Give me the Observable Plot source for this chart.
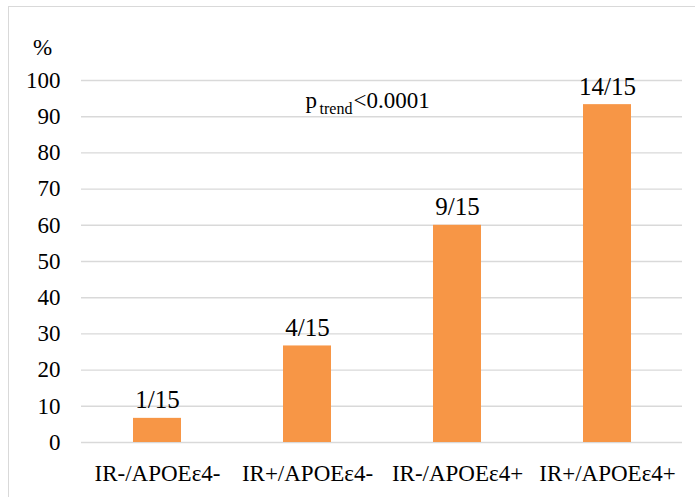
<!DOCTYPE html>
<html>
<head>
<meta charset="utf-8">
<script src="https://cdn.jsdelivr.net/npm/d3@7"></script>
<script src="https://cdn.jsdelivr.net/npm/@observablehq/plot@0.6"></script>
<style>
  html, body { margin: 0; padding: 0; background: #fff; }
  #wrap { position: relative; width: 695px; height: 497px; overflow: hidden; }
  #border { position: absolute; left: 8px; top: 6px; width: 800px; height: 600px;
            border-top: 1.5px solid #d9d9d9; border-left: 1.5px solid #d9d9d9; pointer-events: none; }
  #wrap svg { position: absolute; left: 0; top: 0; }
</style>
</head>
<body>
<div id="wrap"><div id="border"></div></div>
<script>
const categories = ["IR-/APOEε4-", "IR+/APOEε4-", "IR-/APOEε4+", "IR+/APOEε4+"];
const percents = [6.67, 26.67, 60, 93.33];
const labels = ["1/15", "4/15", "9/15", "14/15"];
const yTicks = [0, 10, 20, 30, 40, 50, 60, 70, 80, 90, 100];

const data = categories.map((c, i) => ({cat: c, value: percents[i], label: labels[i]}));
const serif = "'Times New Roman', Tinos, 'DejaVu Serif', serif";

const chart = Plot.plot({
  width: 695,
  height: 497,
  marginLeft: 81,
  marginRight: 13,
  marginTop: 80,
  marginBottom: 55,
  style: {color: "#000", background: "transparent", fontFamily: serif},
  x: {domain: categories, paddingInner: 0.68, paddingOuter: 0.34, label: null},
  y: {domain: [0, 100], label: null},
  marks: [
    Plot.gridY(yTicks, {stroke: "#d9d9d9", strokeWidth: 1.4, strokeOpacity: 1}),
    Plot.barY(data, {x: "cat", y: "value", fill: "#F79646"}),
    Plot.text(data, {x: "cat", y: "value", text: "label", lineAnchor: "bottom", dy: -10, fontSize: 25, fontFamily: serif, fill: "#000"}),
    Plot.axisY(yTicks, {tickSize: 0, tickPadding: 21, fontSize: 23, fontFamily: serif, label: null, fill: "#000"}),
    Plot.axisX({tickSize: 0, tickPadding: 22, fontSize: 23, fontFamily: serif, label: null, fill: "#000"}),
    Plot.text(["%"], {frameAnchor: "top-left", dx: -39, dy: -33, textAnchor: "middle", lineAnchor: "middle", fontSize: 23, fontFamily: serif, fill: "#000"}),
    Plot.text(["p"], {frameAnchor: "top-left", dx: 224, dy: 27, textAnchor: "start", lineAnchor: "bottom", fontSize: 23, fontFamily: serif, fill: "#000"}),
    Plot.text(["trend"], {frameAnchor: "top-left", dx: 238, dy: 33, textAnchor: "start", lineAnchor: "bottom", fontSize: 16, fontFamily: serif, fill: "#000"}),
    Plot.text(["<0.0001"], {frameAnchor: "top-left", dx: 272, dy: 27, textAnchor: "start", lineAnchor: "bottom", fontSize: 23, fontFamily: serif, fill: "#000"})
  ]
});
document.getElementById("wrap").insertBefore(chart, document.getElementById("border"));
</script>
</body>
</html>
